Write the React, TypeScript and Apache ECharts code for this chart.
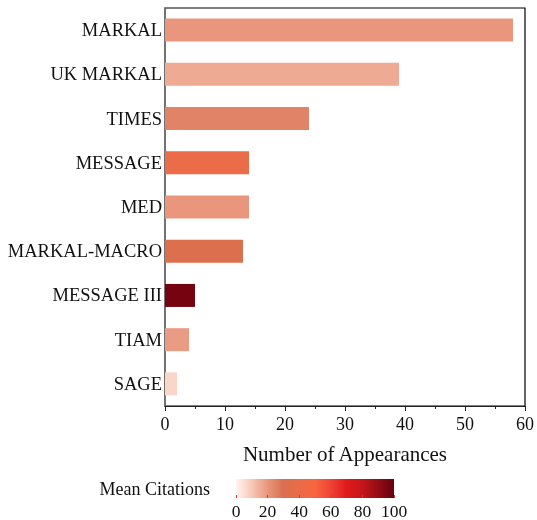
import React, { useEffect, useRef } from "react";
import * as echarts from "echarts";

const models = ["MARKAL", "UK MARKAL", "TIMES", "MESSAGE", "MED", "MARKAL-MACRO", "MESSAGE III", "TIAM", "SAGE"];
const appearances = [58, 39, 24, 14, 14, 13, 5, 4, 2];
const meanCitations = [20, 16, 25, 40, 20, 32, 97, 19, 7];
const colorbarTicks = [0, 20, 40, 60, 80, 100];

const rampColors = [
  "#fff5f0", "#f6c9b5", "#e9967d", "#d87050", "#ea6c48", "#f8653f",
  "#ee4434", "#e0191c", "#c4151a", "#940d16", "#67000d",
];

const FONT = "'Liberation Serif', 'Times New Roman', serif";

export default function App() {
  const ref = useRef<HTMLDivElement>(null);
  useEffect(() => {
    if (!ref.current) return;
    const chart = echarts.init(ref.current, undefined, { renderer: "svg" });
    const cats = [...models].reverse();
    const data = models
      .map((m, i) => ({ value: [appearances[i], m, meanCitations[i]] }))
      .reverse();
    const stops = rampColors.map((c, i) => ({ offset: i / (rampColors.length - 1), color: c }));
    chart.setOption({
      animation: false,
      textStyle: { fontFamily: FONT },
      grid: [
        { left: 165, right: 8, top: 8, height: 398, show: true, borderColor: "#000", borderWidth: 1.2, backgroundColor: "transparent" },
        {
          left: 236, width: 158, top: 479, height: 19, show: true, borderWidth: 0,
          backgroundColor: new echarts.graphic.LinearGradient(0, 0, 1, 0, stops),
        },
      ],
      xAxis: [
        {
          gridIndex: 0, type: "value", min: 0, max: 60, interval: 10,
          name: "Number of Appearances", nameLocation: "middle", nameGap: 37,
          nameTextStyle: { fontSize: 21, color: "#111", fontFamily: FONT },
          axisLine: { show: true, lineStyle: { color: "#222", width: 1.2 } },
          axisTick: { show: true, length: 5, lineStyle: { color: "#222" } },
          minorTick: { show: true, splitNumber: 2, length: 3, lineStyle: { color: "#222" } },
          splitLine: { show: false },
          axisLabel: { fontSize: 18, color: "#111", margin: 9, fontFamily: FONT },
        },
        {
          gridIndex: 1, type: "value", min: 0, max: 100, interval: 20,
          axisLine: { show: false },
          axisTick: { show: true, inside: true, length: 3, lineStyle: { color: "#e8302a" } },
          splitLine: { show: false },
          axisLabel: { fontSize: 17.5, color: "#111", margin: 4, fontFamily: FONT },
          data: colorbarTicks,
        },
      ],
      yAxis: [
        {
          gridIndex: 0, type: "category", data: cats,
          axisLine: { show: true, lineStyle: { color: "#777", width: 1.5 } },
          axisTick: { show: false },
          axisLabel: { fontSize: 18.5, color: "#111", margin: 3, fontFamily: FONT },
        },
        {
          gridIndex: 1, type: "category", data: ["Mean Citations"],
          axisLine: { show: false }, axisTick: { show: false },
          axisLabel: { fontSize: 18, color: "#111", margin: 26, padding: [9, 0, 0, 0], fontFamily: FONT },
        },
      ],
      visualMap: {
        show: false, type: "continuous", min: 0, max: 100, dimension: 2, seriesIndex: 0,
        inRange: { color: rampColors },
      },
      series: [
        {
          type: "bar", xAxisIndex: 0, yAxisIndex: 0, data,
          barWidth: "52%",
          encode: { x: 0, y: 1 },
        },
      ],
    });
    return () => chart.dispose();
  }, []);
  return <div ref={ref} style={{ position: "fixed", left: 0, top: 0, width: 537, height: 520 }} />;
}
